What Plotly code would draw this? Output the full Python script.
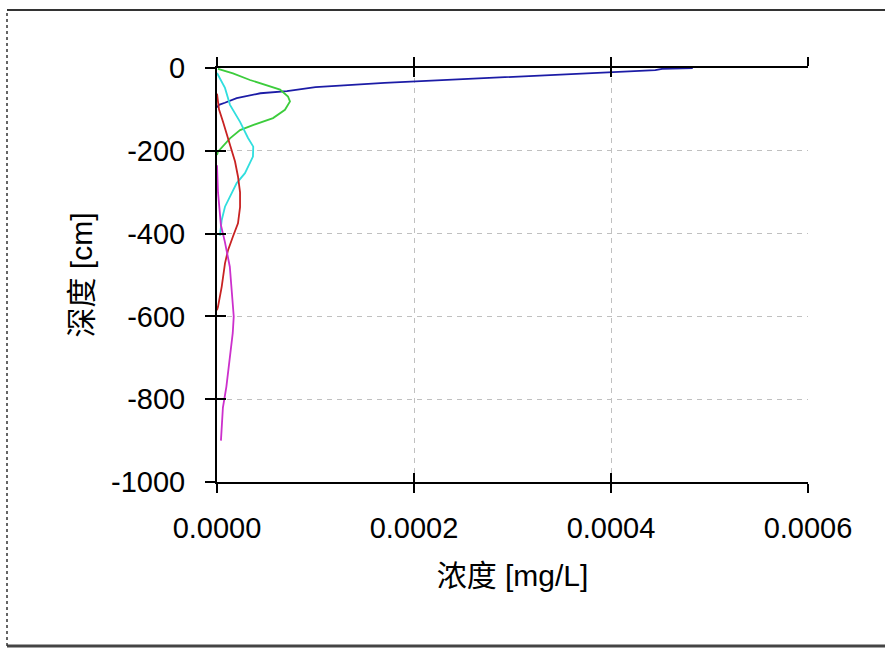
import plotly.graph_objects as go

# ---- data ----
blue_depth = [0, -2, -5, -10, -17, -27, -36, -46, -56, -61, -73, -84, -89, -95]
blue_conc = [0.000483, 0.000452, 0.000445, 0.000399, 0.000336, 0.000257, 0.000170,
             0.000100, 0.000071, 0.000044, 0.000020, 0.000008, 0.000002, 0.0]

green_depth = [-2, -13, -29, -41, -52, -69, -81, -101, -121, -138, -150, -170, -190, -202, -210]
green_conc = [0.000001, 0.0000162, 0.0000335, 0.0000508, 0.000064, 0.0000721, 0.0000741,
              0.000069, 0.0000569, 0.0000365, 0.0000234, 0.0000132, 0.0000051, 0.000001, 0.0]

cyan_depth = [-12, -48, -89, -130, -169, -190, -214, -254, -278, -311, -335, -367, -405]
cyan_conc = [0.0, 0.0000081, 0.0000132, 0.0000234, 0.0000315, 0.0000368, 0.0000365,
             0.0000284, 0.00002, 0.0000132, 0.0000081, 0.0000048, 0.000003]

red_depth = [-62, -80, -100, -130, -170, -226, -262, -300, -336, -375, -407, -440, -472, -528, -577, -585]
red_conc = [0.0, 0.000001, 0.000002, 0.0000061, 0.0000112, 0.0000183, 0.0000213, 0.0000234,
            0.0000234, 0.0000213, 0.0000162, 0.0000112, 0.0000081, 0.0000048, 0.000001, 0.0]

magenta_depth = [-235, -300, -380, -420, -480, -550, -600, -640, -700, -770, -820, -870, -900]
magenta_conc = [0.0, 0.000001, 0.000004, 0.000008, 0.000013, 0.000015, 0.000017, 0.000016,
                0.000013, 0.0000095, 0.000006, 0.0000048, 0.000004]

x_tickvals = [0, 0.0002, 0.0004, 0.0006]
x_ticktext = ["0.0000", "0.0002", "0.0004", "0.0006"]
y_tickvals = [0, -200, -400, -600, -800, -1000]
y_ticktext = ["0", "-200", "-400", "-600", "-800", "-1000"]

x_title = "浓度 [mg/L]"
y_title = "深度 [cm]"

series = [
    (blue_conc, blue_depth, "#1c1ca6"),
    (green_conc, green_depth, "#3ccc3c"),
    (cyan_conc, cyan_depth, "#30dede"),
    (red_conc, red_depth, "#c82222"),
    (magenta_conc, magenta_depth, "#cc30cc"),
]

FONT = "Liberation Sans, Arial, Noto Sans CJK SC, sans-serif"

fig = go.Figure()
for xs, ys, col in series:
    fig.add_trace(go.Scatter(x=xs, y=ys, mode="lines",
                             line=dict(color=col, width=1.8),
                             showlegend=False, hoverinfo="skip"))
# empty trace to activate overlay axes (inside tick halves)
fig.add_trace(go.Scatter(x=[], y=[], xaxis="x2", yaxis="y2", showlegend=False))

grid = dict(showgrid=True, gridcolor="#c0c0c0", griddash="5px,5px", gridwidth=1)

fig.update_layout(
    width=885, height=650,
    margin=dict(l=217, r=77, t=68, b=168),
    paper_bgcolor="white", plot_bgcolor="white",
    font=dict(family=FONT, size=29, color="#000"),
    xaxis=dict(range=[0, 0.0006], tickvals=x_tickvals, ticktext=x_ticktext,
               showline=True, linecolor="black", linewidth=2, mirror="allticks",
               ticks="outside", ticklen=9, tickwidth=2, tickcolor="black",
               ticklabelstandoff=10, zeroline=False,
               title=dict(text=x_title, font=dict(size=30), standoff=22), **grid),
    yaxis=dict(range=[-1000, 0], tickvals=y_tickvals, ticktext=y_ticktext,
               showline=True, linecolor="black", linewidth=2,
               ticks="outside", ticklen=10, tickwidth=2, tickcolor="black",
               ticklabelstandoff=14, zeroline=False,
               title=dict(text=y_title, font=dict(size=30), standoff=10), **grid),
    xaxis2=dict(range=[0, 0.0006], tickvals=x_tickvals, overlaying="x", anchor="y2",
                showline=False, mirror="allticks", ticks="inside", ticklen=9, tickwidth=2,
                tickcolor="black", showticklabels=False, showgrid=False, zeroline=False),
    yaxis2=dict(range=[-1000, 0], tickvals=y_tickvals, overlaying="y", anchor="x2",
                showline=False, ticks="inside", ticklen=9, tickwidth=2,
                tickcolor="black", showticklabels=False, showgrid=False, zeroline=False),
)

# outer frame (decoration, paper coordinates)
L, R, T, B = -210 / 591, 668 / 591, 472 / 414, -164 / 414
fig.add_shape(type="line", xref="paper", yref="paper", x0=L, x1=R, y0=T, y1=T,
              line=dict(color="#333", width=2))
fig.add_shape(type="line", xref="paper", yref="paper", x0=L, x1=R, y0=B, y1=B,
              line=dict(color="#444", width=3))
fig.add_shape(type="line", xref="paper", yref="paper", x0=L, x1=L, y0=B, y1=T,
              line=dict(color="#333", width=1.5, dash="dot"))

fig.write_html("out.html")
